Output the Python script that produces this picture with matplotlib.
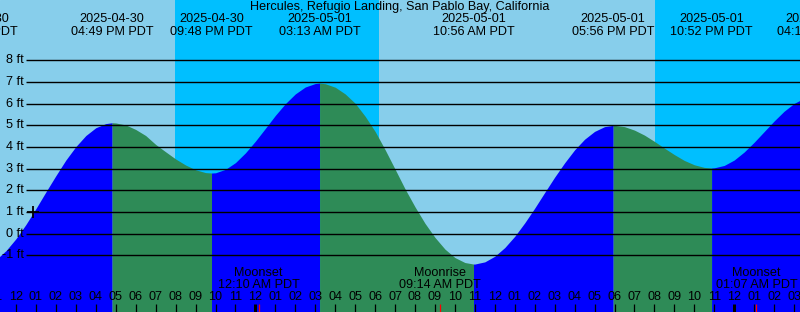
import numpy as np
import matplotlib
matplotlib.use("Agg")
import matplotlib.pyplot as plt
import matplotlib.transforms as mtransforms

plt.rcParams["font.family"] = ["Liberation Sans", "DejaVu Sans"]

# Hours are counted from 12:00 PM PDT on 2025-04-30
title = "Hercules, Refugio Landing, San Pablo Bay, California"

# High / low tides
tide_hours = [-1.983, 4.817, 9.8, 15.217, 22.933, 29.933, 34.867, 40.2]
tide_heights = [-1.55, 5.12, 2.8, 6.95, -1.4, 5.0, 3.03, 6.38]
tide_dates = ["2025-04-30", "2025-04-30", "2025-04-30", "2025-05-01",
              "2025-05-01", "2025-05-01", "2025-05-01", "2025-05-02"]
tide_clock = ["10:01 AM PDT", "04:49 PM PDT", "09:48 PM PDT", "03:13 AM PDT",
              "10:56 AM PDT", "05:56 PM PDT", "10:52 PM PDT", "04:12 AM PDT"]

# Water level read every half hour
curve_hours = np.arange(-1.0, 40.0, 0.5)
curve_heights = [
    -1.20, -0.78, -0.23, 0.43, 1.16, 1.93, 2.68, 3.40, 4.02, 4.53, 4.89, 5.08,
    5.11, 5.02, 4.81, 4.53, 4.12, 3.78, 3.45, 3.17, 2.95, 2.82,
    2.81, 2.97, 3.28, 3.73, 4.27, 4.86, 5.46, 6.00, 6.45, 6.77, 6.93,
    6.92, 6.76, 6.45, 6.02, 5.42, 4.72, 3.88, 2.98, 2.07, 1.24, 0.48, -0.17,
    -0.71, -1.10, -1.33,
    -1.40, -1.30, -1.04, -0.64, -0.12, 0.50, 1.18, 1.90, 2.61, 3.27, 3.87,
    4.36, 4.72, 4.94,
    5.00, 4.94, 4.78, 4.55, 4.26, 3.95, 3.65, 3.38, 3.18, 3.06,
    3.04, 3.15, 3.40, 3.77, 4.22, 4.71, 5.20, 5.65, 6.01, 6.25,
]

# Night (sunset -> sunrise)
night_start = [7.97, 32.03]
night_end = [18.2, 42.0]

# Moon events
moon_hours = [12.167, 21.233, 37.117]
moon_names = ["Moonset", "Moonrise", "Moonset"]
moon_clock = ["12:10 AM PDT", "09:14 AM PDT", "01:07 AM PDT"]

ft_levels = [-1, 0, 1, 2, 3, 4, 5, 6, 7, 8]
hour_ticks = list(range(-1, 40))
midnights = [12, 36]
marker_hour, marker_ft = 0.85, 1.0

# pixel layout: x = 16 + 19.95*hour, y = 233.7 - 21.67*ft
x_lo, x_hi = -16 / 19.95, (800 - 16) / 19.95
y_top, y_bot = 233.7 / 21.67, (233.7 - 312) / 21.67

fig = plt.figure(figsize=(8, 3.12), dpi=100)
ax = fig.add_axes([0, 0, 1, 1])
ax.set_xlim(x_lo, x_hi)
ax.set_ylim(y_bot, y_top)
ax.axis("off")
ax.add_patch(plt.Rectangle((0, 0), 1, 1, transform=ax.transAxes,
                           color="#87CEEB", zorder=0))

for s, e in zip(night_start, night_end):
    ax.axvspan(s, e, color="#00BFFF", lw=0, zorder=1)

# merge curve readings with the tide extremes
t_all = np.concatenate([curve_hours, tide_hours])
h_all = np.concatenate([curve_heights, tide_heights])
order = np.argsort(t_all)
t_all, h_all = t_all[order], h_all[order]

for i in range(len(tide_hours) - 1):
    m = (t_all >= tide_hours[i]) & (t_all <= tide_hours[i + 1])
    col = "#0000FF" if tide_heights[i + 1] > tide_heights[i] else "#2E8B57"
    ax.fill_between(t_all[m], y_bot - 1, h_all[m], color=col, lw=0, zorder=2)

ax.hlines(ft_levels, 0.5, x_hi + 1, color="black", lw=1.0, zorder=3)
for lv in ft_levels:
    ax.text(0.40, lv, f"{lv} ft", ha="right", va="center", fontsize=9.1,
            color="black", zorder=4)

ax.plot([marker_hour], [marker_ft], marker="+", color="black", ms=9, mew=1.3,
        zorder=4)

px = lambda p: (312 - p) / 312
blend = mtransforms.blended_transform_factory(ax.transData, ax.transAxes)

ax.text(0.5, px(7), title, transform=ax.transAxes, ha="center", va="center",
        fontsize=9.1, color="black", zorder=5)

for t, d, c in zip(tide_hours, tide_dates, tide_clock):
    ax.text(t, px(19.3), d, transform=blend, ha="center", va="center",
            fontsize=9.1, color="black", zorder=5)
    ax.text(t, px(32.3), c, transform=blend, ha="center", va="center",
            fontsize=9.1, color="black", zorder=5)

for t in hour_ticks:
    hr = (12 + t) % 12
    hr = 12 if hr == 0 else hr
    ax.text(t, px(297), f"{hr:02d}", transform=blend, ha="center",
            va="center", fontsize=9.1, color="black", zorder=5)
    lw = 3 * 0.72 if t in midnights else 0.9
    ax.plot([t, t], [0, px(304)], transform=blend, color="black", lw=lw,
            solid_capstyle="butt", zorder=5)

for t, n, c in zip(moon_hours, moon_names, moon_clock):
    ax.plot([t, t], [0, px(304)], transform=blend, color="red", lw=0.9,
            solid_capstyle="butt", zorder=6)
    ax.text(t, px(273.5), n, transform=blend, ha="center", va="center",
            fontsize=9.1, color="black", zorder=5)
    ax.text(t, px(285.5), c, transform=blend, ha="center", va="center",
            fontsize=9.1, color="black", zorder=5)

fig.savefig("out.png", dpi=100)
